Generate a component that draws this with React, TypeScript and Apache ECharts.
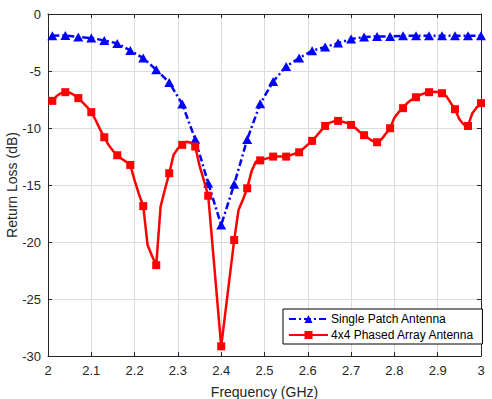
import React, { useEffect, useRef } from "react";
import * as echarts from "echarts";

// Single patch antenna (markers at every point)
const singleFreq = [2.01, 2.04, 2.07, 2.10, 2.13, 2.16, 2.19, 2.22, 2.25, 2.28, 2.31, 2.34, 2.37, 2.40, 2.43, 2.46, 2.49, 2.52, 2.55, 2.58, 2.61, 2.64, 2.67, 2.70, 2.73, 2.76, 2.79, 2.82, 2.85, 2.88, 2.91, 2.94, 2.97, 3.00];
const singleLoss = [-1.91, -1.88, -2.02, -2.11, -2.32, -2.58, -3.2, -3.87, -4.9, -6.0, -7.9, -10.98, -14.85, -18.5, -14.94, -11.0, -7.88, -5.92, -4.6, -3.87, -3.22, -2.9, -2.55, -2.2, -2.02, -1.97, -1.97, -1.91, -1.91, -1.91, -1.91, -1.91, -1.91, -1.91];

// 4x4 phased array (markers every 0.03 GHz starting at 2.01)
const arrayFreq = [2.01, 2.02, 2.03, 2.04, 2.05, 2.06, 2.07, 2.08, 2.09, 2.10, 2.11, 2.12, 2.13, 2.14, 2.15, 2.16, 2.17, 2.18, 2.19, 2.20, 2.21, 2.22, 2.23, 2.24, 2.25, 2.26, 2.27, 2.28, 2.29, 2.30, 2.31, 2.32, 2.33, 2.34, 2.35, 2.36, 2.37, 2.40, 2.43, 2.44, 2.45, 2.46, 2.47, 2.48, 2.49, 2.52, 2.55, 2.58, 2.61, 2.62, 2.63, 2.64, 2.65, 2.66, 2.67, 2.68, 2.69, 2.70, 2.71, 2.72, 2.73, 2.74, 2.75, 2.76, 2.77, 2.78, 2.79, 2.80, 2.81, 2.82, 2.83, 2.84, 2.85, 2.86, 2.87, 2.88, 2.89, 2.90, 2.91, 2.92, 2.93, 2.94, 2.95, 2.96, 2.97, 2.98, 2.99, 3.00];
const arrayLoss = [-7.62, -7.2, -6.95, -6.86, -6.9, -7.1, -7.38, -7.75, -8.15, -8.61, -9.3, -10.1, -10.81, -11.5, -12.0, -12.39, -12.7, -12.95, -13.24, -14.6, -15.8, -16.85, -20.27, -21.2, -22.03, -16.9, -15.4, -13.97, -12.36, -11.8, -11.48, -11.2, -11.3, -11.63, -13.3, -14.6, -15.94, -29.15, -19.83, -17.2, -16.3, -15.29, -13.8, -12.95, -12.84, -12.51, -12.51, -12.13, -11.13, -10.7, -10.25, -9.82, -9.55, -9.42, -9.38, -9.45, -9.55, -9.73, -10.0, -10.35, -10.63, -10.9, -11.15, -11.25, -11.0, -10.5, -10.02, -9.1, -8.6, -8.26, -7.8, -7.5, -7.3, -7.1, -6.95, -6.86, -6.82, -6.85, -6.95, -7.2, -7.8, -8.35, -9.23, -9.7, -9.82, -8.7, -8.2, -7.82];

const seriesNames = ["Single Patch Antenna", "4x4 Phased Array Antenna"];

const FONT = "'Liberation Sans', Arial, Helvetica, sans-serif";
const AXIS_COLOR = "#262626";

const isMarker = (f: number) => {
  const k = (f - 2.01) / 0.03;
  return Math.abs(k - Math.round(k)) < 1e-6;
};

export default function App() {
  const ref = useRef<HTMLDivElement>(null);
  useEffect(() => {
    document.body.style.margin = "0";
    if (!ref.current) return;
    const chart = echarts.init(ref.current, undefined, { renderer: "svg" });

    const singleData = singleFreq.map((f, i) => [f, singleLoss[i]]);
    const arrayData = arrayFreq.map((f, i) =>
      isMarker(f) ? { value: [f, arrayLoss[i]] } : { value: [f, arrayLoss[i]], symbol: "none" }
    );

    const boxAxis = {
      axisLine: { show: true, lineStyle: { color: AXIS_COLOR, width: 1 } },
      axisTick: { show: true, inside: true, length: 4, lineStyle: { color: AXIS_COLOR } },
      axisLabel: { show: false },
      splitLine: { show: false },
    };

    chart.setOption({
      animation: false,
      backgroundColor: "#ffffff",
      textStyle: { fontFamily: FONT },
      grid: { left: 48, right: 11, top: 14, bottom: 43, containLabel: false, outerBoundsMode: "none" },
      legend: {
        data: seriesNames,
        orient: "vertical",
        left: 283,
        top: 309,
        itemWidth: 39,
        itemHeight: 10,
        itemGap: 4,
        padding: [4, 8, 3, 5],
        backgroundColor: "#ffffff",
        borderColor: "#000000",
        borderWidth: 1,
        borderRadius: 0,
        textStyle: { fontSize: 12, color: "#000000", fontFamily: FONT, padding: [0, 0, 0, -2] },
      },
      xAxis: [
        {
          type: "value",
          min: 2,
          max: 3,
          interval: 0.1,
          name: "Frequency (GHz)",
          nameLocation: "middle",
          nameGap: 29,
          nameTextStyle: { fontSize: 14, color: AXIS_COLOR, fontFamily: FONT },
          axisLine: { show: true, onZero: false, lineStyle: { color: AXIS_COLOR, width: 1 } },
          axisTick: { show: true, inside: true, length: 4, lineStyle: { color: AXIS_COLOR } },
          axisLabel: { fontSize: 13, color: AXIS_COLOR, margin: 8, fontFamily: FONT },
          splitLine: { show: true, lineStyle: { color: "#dcdcdc", width: 1 } },
        },
        { type: "value", position: "top", min: 2, max: 3, interval: 0.1, ...boxAxis },
      ],
      yAxis: [
        {
          type: "value",
          min: -30,
          max: 0,
          interval: 5,
          name: "Return Loss (dB)",
          nameLocation: "middle",
          nameGap: 29,
          nameMoveOverlap: false,
          nameTextStyle: { fontSize: 14, color: AXIS_COLOR, fontFamily: FONT },
          axisLine: { show: true, onZero: false, lineStyle: { color: AXIS_COLOR, width: 1 } },
          axisTick: { show: true, inside: true, length: 4, lineStyle: { color: AXIS_COLOR } },
          axisLabel: { fontSize: 13, color: AXIS_COLOR, margin: 7, fontFamily: FONT },
          splitLine: { show: true, lineStyle: { color: "#dcdcdc", width: 1 } },
        },
        { type: "value", position: "right", min: -30, max: 0, interval: 5, ...boxAxis },
      ],
      series: [
        {
          name: seriesNames[0],
          type: "line",
          data: singleData,
          clip: false,
          symbol: "triangle",
          symbolSize: [10, 9],
          showSymbol: true,
          color: "#0000ff",
          itemStyle: { color: "#0000ff" },
          lineStyle: { color: "#0000ff", width: 2.5, type: [7, 3, 2, 3] },
          z: 2,
        },
        {
          name: seriesNames[1],
          type: "line",
          data: arrayData,
          clip: false,
          symbol: "rect",
          symbolSize: 8,
          showSymbol: true,
          color: "#ff0000",
          itemStyle: { color: "#ff0000" },
          lineStyle: { color: "#ff0000", width: 2.5, type: "solid" },
          z: 3,
        },
      ],
    });
    return () => chart.dispose();
  }, []);
  return <div ref={ref} style={{ width: 492, height: 399 }} />;
}
